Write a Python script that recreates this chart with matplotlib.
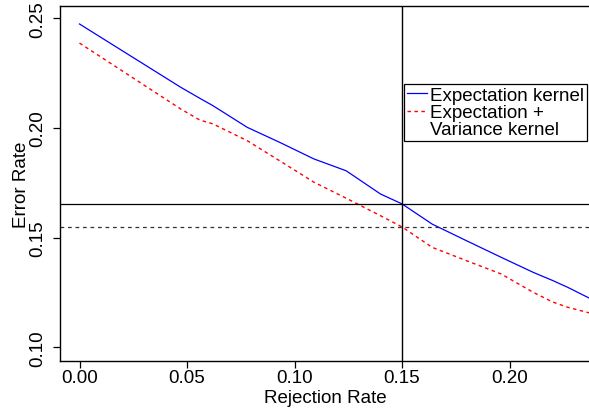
import numpy as np
import matplotlib
matplotlib.use("Agg")
import matplotlib.pyplot as plt
from matplotlib.lines import Line2D

# values
rejection_rate = [0.0, 0.047, 0.056, 0.062, 0.078, 0.093, 0.109, 0.124, 0.140,
                  0.150, 0.164, 0.180, 0.196, 0.211, 0.220, 0.227, 0.238]
err_expectation = [0.2474, 0.2186, 0.2135, 0.2102, 0.2003, 0.1935, 0.1859, 0.1805,
                   0.1699, 0.1654, 0.1562, 0.1486, 0.1411, 0.1342, 0.1305, 0.1274,
                   0.1220]
err_exp_var = [0.2387, 0.2087, 0.2036, 0.2019, 0.1942, 0.1851, 0.1753, 0.1680,
               0.1600, 0.1549, 0.1456, 0.1395, 0.1335, 0.1251, 0.1207, 0.1183,
               0.1155]
cut_rate = 0.15
cut_err_expectation = 0.1654
cut_err_exp_var = 0.1549

plt.rcParams['font.family'] = ['Liberation Sans', 'DejaVu Sans']
fs = 13.5

fig = plt.figure(figsize=(5.89, 4.10), dpi=100)
ax = fig.add_axes([60 / 589, 1 - 362 / 410, 530 / 589, 355 / 410])

ax.plot(rejection_rate, err_expectation, color="#0000FF", lw=0.9)
ax.plot(rejection_rate, err_exp_var, color="#FF0000", lw=1.0,
        linestyle=(0, (2.5, 2.5)))

ax.axvline(cut_rate, color="black", lw=1.0)
ax.axhline(cut_err_expectation, color="black", lw=0.9)
ax.axhline(cut_err_exp_var, color="#333333", lw=0.9, linestyle=(0, (3, 3)))

ax.set_xlim(-0.00907, 0.2374)
ax.set_ylim(0.0938, 0.2556)
ax.set_xticks([0.0, 0.05, 0.10, 0.15, 0.20])
ax.set_xticklabels(["0.00", "0.05", "0.10", "0.15", "0.20"])
ax.set_yticks([0.10, 0.15, 0.20, 0.25])
ax.set_yticklabels(["0.10", "0.15", "0.20", "0.25"], rotation=90, va="center")

ax.tick_params(direction="out", length=5, width=0.9, labelsize=fs, color="black")
ax.tick_params(axis="x", pad=1)
ax.tick_params(axis="y", pad=5)
for s in ax.spines.values():
    s.set_linewidth(1.0)
    s.set_color("black")
ax.spines["right"].set_visible(False)

ax.set_xlabel("Rejection Rate", fontsize=fs, labelpad=2)
ax.set_ylabel("Error Rate", fontsize=fs, labelpad=-1)

handles = [Line2D([], [], color="#0000FF", lw=0.9),
           Line2D([], [], color="#FF0000", lw=1.0, linestyle=(0, (2.5, 2.5))),
           Line2D([], [], color="none")]
labels = ["Expectation kernel", "Expectation +", "Variance kernel"]
leg = ax.legend(handles, labels, loc="upper right", bbox_to_anchor=(0.9943, 0.780),
                fontsize=fs, frameon=True, fancybox=False, edgecolor="black",
                handlelength=1.1, handletextpad=0.15, labelspacing=0.0,
                borderpad=0.15, borderaxespad=0, framealpha=1)
leg.get_frame().set_linewidth(0.9)

fig.savefig("out.png", dpi=100)
